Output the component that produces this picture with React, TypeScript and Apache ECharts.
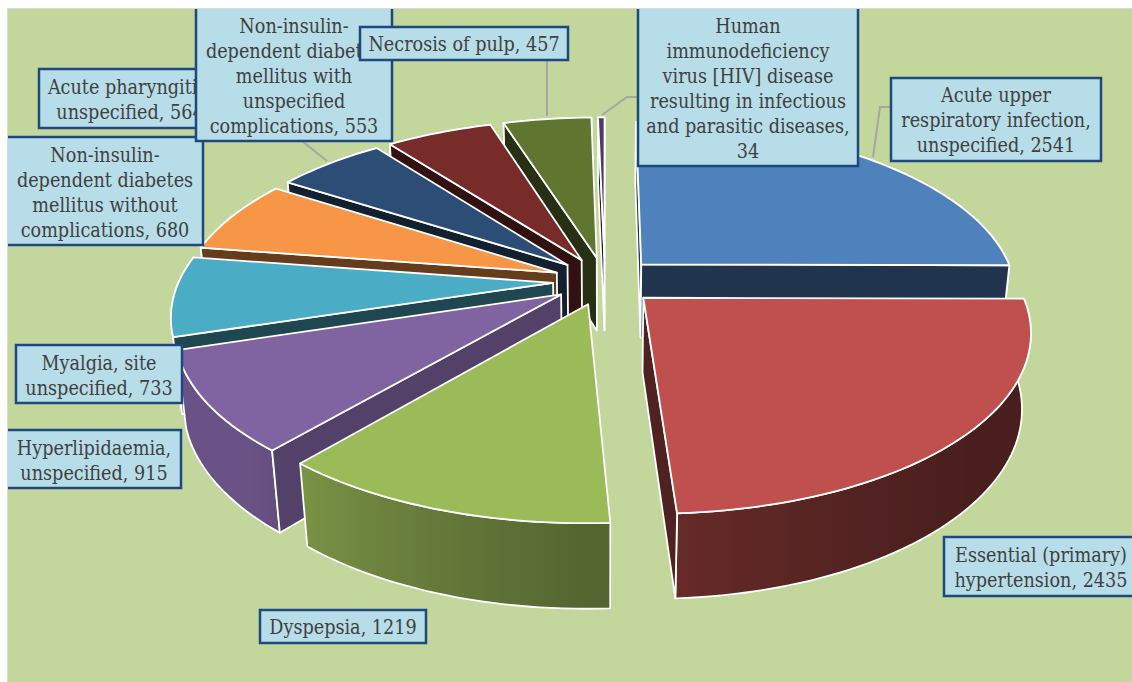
import React, { useEffect, useRef } from "react";
import * as echarts from "echarts";

const categories = [
  "Acute upper respiratory infection, unspecified",
  "Essential (primary) hypertension",
  "Dyspepsia",
  "Hyperlipidaemia, unspecified",
  "Myalgia, site unspecified",
  "Non-insulin-dependent diabetes mellitus without complications",
  "Acute pharyngitis, unspecified",
  "Non-insulin-dependent diabetes mellitus with unspecified complications",
  "Necrosis of pulp",
  "Human immunodeficiency virus [HIV] disease resulting in infectious and parasitic diseases",
];
const values = [2541, 2435, 1219, 915, 733, 680, 564, 553, 457, 34];
const labelLines = [
  ["Acute upper", "respiratory infection,", "unspecified, 2541"],
  ["Essential (primary)", "hypertension, 2435"],
  ["Dyspepsia, 1219"],
  ["Hyperlipidaemia,", "unspecified, 915"],
  ["Myalgia, site", "unspecified, 733"],
  ["Non-insulin-", "dependent diabetes", "mellitus without", "complications, 680"],
  ["Acute pharyngitis,", "unspecified, 564"],
  ["Non-insulin-", "dependent diabetes", "mellitus with", "unspecified", "complications, 553"],
  ["Necrosis of pulp, 457"],
  ["Human", "immunodeficiency", "virus [HIV] disease", "resulting in infectious", "and parasitic diseases,", "34"],
];
const palette = ["#4F81BD", "#C0504D", "#9BBB59", "#8064A2", "#4BACC6", "#F79646", "#2C4D75", "#772C2A", "#5F7530", "#4D3B62"];

// label box: x, y, w, h, text centre x, text centre y
const labelBoxes = [
  [891, 78, 210, 83, 996, 120.5],
  [944, 537, 200, 59, 1041, 568],
  [260, 610, 166, 33, 343, 627.5],
  [2, 430, 179, 58, 94, 461],
  [16, 345, 166, 58, 99, 376],
  [2, 137, 201, 108, 105, 193],
  [39, 69, 176, 59, 130, 100],
  [196, 2, 196, 139, 294, 76.5],
  [360, 27, 208, 33, 464, 44.5],
  [638, 2, 220, 164, 748, 89],
];
// leader lines, drawn from box to slice rim
const leaders = [
  [[891, 107], [880, 107], [873, 157]],
  [[638, 97], [627, 97], [602, 115]],
  [[547, 60], [547, 116]],
  [[302, 141], [327, 161]],
];

// projection of the 3D pie
const CX = 605, CY = 281, R = 374, EXPLODE = 52, HEIGHT = 85, DIST = 1918;
const SIN_P = 0.46, COS_P = Math.sqrt(1 - SIN_P * SIN_P);
const total = values.reduce((a, b) => a + b, 0);
const cum: number[] = [];
values.reduce((a, b, i) => { cum[i] = a; return a + b; }, 0);
const startAngle = (i: number) => (cum[i] / total) * 2 * Math.PI;
const endAngle = (i: number) => ((cum[i] + values[i]) / total) * 2 * Math.PI;

function project(X: number, Y: number, Z: number): number[] {
  const w = 1 - (Y * COS_P + Z * SIN_P) / DIST;
  return [CX + X / w, CY + (Y * SIN_P - Z * COS_P) / w];
}
function shade(hex: string, k: number): string {
  const n = parseInt(hex.slice(1), 16);
  const c = [(n >> 16) & 255, (n >> 8) & 255, n & 255].map((v) => Math.round(v * k));
  return `rgb(${c[0]},${c[1]},${c[2]})`;
}
function outerShade(phi: number): number {
  const t = Math.min(1, Math.max(0, ((phi * 180) / Math.PI - 130) / 95));
  return 0.38 + 0.44 * Math.pow(t, 1.5);
}
function wallShade(phi: number): number {
  const d = (phi * 180) / Math.PI;
  return d > 200 && d < 240 ? 0.65 : 0.41;
}
function area(p: number[][]): number {
  let s = 0;
  p.forEach((a, i) => {
    const b = p[(i + 1) % p.length];
    s += a[0] * b[1] - b[0] * a[1];
  });
  return s;
}

// painter's order: far slices first
const drawOrder = values
  .map((_, i) => i)
  .sort((a, b) => {
    const ya = -Math.cos((startAngle(a) + endAngle(a)) / 2);
    const yb = -Math.cos((startAngle(b) + endAngle(b)) / 2);
    return ya - yb;
  });

const renderItem = (_params: any, api: any) => {
  const i = api.value(0);
  const a = startAngle(i), b = endAngle(i), m = (a + b) / 2;
  const ox = EXPLODE * Math.sin(m), oy = -EXPLODE * Math.cos(m);
  const at = (phi: number, z: number) => project(ox + R * Math.sin(phi), oy - R * Math.cos(phi), z);
  const apexT = project(ox, oy, 0), apexB = project(ox, oy, -HEIGHT);
  const steps = Math.max(2, Math.ceil(((b - a) * 180) / Math.PI / 1.5));
  const phis: number[] = [];
  for (let s = 0; s <= steps; s++) phis.push(a + ((b - a) * s) / steps);
  const topArc = phis.map((p) => at(p, 0));
  const botArc = phis.map((p) => at(p, -HEIGHT));
  const color = palette[i];
  const edge = { stroke: "#FFFFFF", lineWidth: 1.8, lineJoin: "round" };

  const xs = topArc.concat(botArc).map((p) => p[0]);
  const minX = Math.min(...xs), maxX = Math.max(...xs), span = Math.max(1, maxX - minX);
  const stops = phis
    .map((p, k) => ({ offset: (topArc[k][0] - minX) / span, color: shade(color, outerShade(p)) }))
    .sort((s1, s2) => s1.offset - s2.offset);

  const children: any[] = [];
  children.push({
    type: "polygon",
    shape: { points: topArc.concat(botArc.slice().reverse()) },
    style: { ...edge, fill: { type: "linear", x: 0, y: 0, x2: 1, y2: 0, colorStops: stops } },
  });
  const startWall = [apexT, at(a, 0), at(a, -HEIGHT), apexB];
  const endWall = [at(b, 0), apexT, apexB, at(b, -HEIGHT)];
  [startWall, endWall].forEach((w, k) => {
    if (area(w) < 0) {
      const k2 = wallShade(k === 0 ? a : b);
      children.push({ type: "polygon", shape: { points: w }, style: { ...edge, fill: shade(color, k2) } });
    }
  });
  children.push({
    type: "polygon",
    shape: { points: [apexT].concat(topArc) },
    style: { ...edge, fill: color },
  });
  return { type: "group", children };
};

const FONT = '19.6px "DejaVu Serif Condensed", "Liberation Serif", serif';

export default function App() {
  const ref = useRef<HTMLDivElement>(null);
  useEffect(() => {
    document.body.style.margin = "0";
    const chart = echarts.init(ref.current!, undefined, { renderer: "svg" });
    const graphics: any[] = [
      { type: "rect", z: 0, silent: true, shape: { x: 8, y: 9, width: 1124, height: 673 }, style: { fill: "#C3D69B" } },
    ];
    leaders.forEach((pts) => {
      graphics.push({
        type: "polyline", z: 1, silent: true,
        shape: { points: pts },
        style: { stroke: "#A6A6A6", lineWidth: 2, fill: "none" },
      });
    });
    labelBoxes.forEach((b, i) => {
      graphics.push({
        type: "rect", z: 10 + i * 2, silent: true,
        shape: { x: b[0], y: b[1], width: b[2], height: b[3] },
        style: { fill: "#B7DDE8", stroke: "#1F497D", lineWidth: 2.5 },
      });
      graphics.push({
        type: "text", z: 11 + i * 2, silent: true, x: b[4], y: b[5],
        style: {
          text: labelLines[i].join("\n"), font: FONT, fill: "#404040",
          align: "center", verticalAlign: "middle", lineHeight: 25,
        },
      });
    });
    // page margin over the clipped boxes
    graphics.push(
      { type: "rect", z: 40, silent: true, shape: { x: 0, y: 0, width: 1132, height: 8 }, style: { fill: "#FFFFFF" } },
      { type: "rect", z: 40, silent: true, shape: { x: 0, y: 0, width: 7, height: 682 }, style: { fill: "#FFFFFF" } },
      { type: "rect", z: 41, silent: true, shape: { x: 7, y: 8, width: 1125, height: 1 }, style: { fill: "#D9D9D9" } },
      { type: "rect", z: 41, silent: true, shape: { x: 7, y: 8, width: 1, height: 674 }, style: { fill: "#D9D9D9" } }
    );
    chart.setOption({
      animation: false,
      backgroundColor: "#FFFFFF",
      graphic: { elements: graphics },
      series: [
        {
          type: "custom",
          name: "Diagnoses",
          coordinateSystem: "none",
          silent: true,
          z: 5,
          renderItem,
          data: drawOrder.map((i) => ({ name: categories[i], value: [i, values[i]] })),
        },
      ],
    });
    return () => chart.dispose();
  }, []);
  return <div ref={ref} style={{ position: "absolute", left: 0, top: 0, width: 1132, height: 682 }} />;
}
